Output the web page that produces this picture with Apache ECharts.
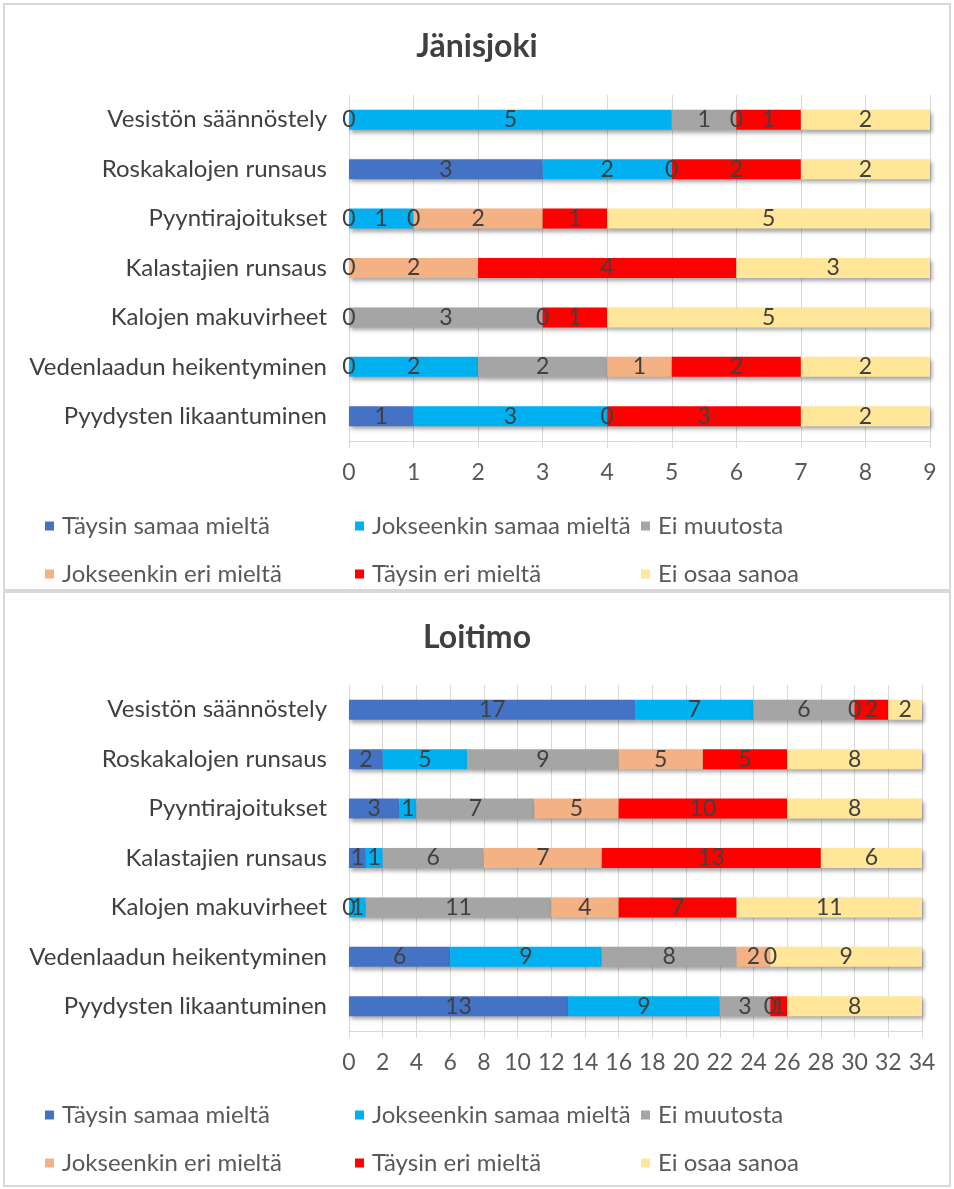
<!DOCTYPE html>
<html>
<head>
<meta charset="utf-8">
<script src="https://cdn.jsdelivr.net/npm/echarts@6/dist/echarts.min.js"></script>
<style>
  html, body { margin: 0; padding: 0; background: #fff; }
  #main { width: 954px; height: 1189px; }
</style>
</head>
<body>
<div id="main"></div>
<script>
// categories, top to bottom
const categories = ['Vesistön säännöstely', 'Roskakalojen runsaus', 'Pyyntirajoitukset',
  'Kalastajien runsaus', 'Kalojen makuvirheet', 'Vedenlaadun heikentyminen', 'Pyydysten likaantuminen']
const seriesNames = ['Täysin samaa mieltä', 'Jokseenkin samaa mieltä', 'Ei muutosta',
  'Jokseenkin eri mieltä', 'Täysin eri mieltä', 'Ei osaa sanoa']
const colors = ['#4472C4', '#00B0F0', '#A5A5A5', '#F4B183', '#FF0000', '#FFE699']

// Jänisjoki
const janTaysinSamaa = [0, 3, 0, 0, 0, 0, 1]
const janJokSamaa = [5, 2, 1, '-', '-', 2, 3]
const janEiMuutosta = [1, 0, 0, '-', 3, 2, 0]
const janJokEri = [0, '-', 2, 2, 0, 1, '-']
const janTaysinEri = [1, 2, 1, 4, 1, 2, 3]
const janEiOsaa = [2, 2, 5, 3, 5, 2, 2]

// Loitimo
const loiTaysinSamaa = [17, 2, 3, 1, 0, 6, 13]
const loiJokSamaa = [7, 5, 1, 1, 1, 9, 9]
const loiEiMuutosta = [6, 9, 7, 6, 11, 8, 3]
const loiJokEri = [0, 5, 5, 7, 4, 2, 0]
const loiTaysinEri = [2, 5, 10, 13, 7, 0, 1]
const loiEiOsaa = [2, 8, 8, 6, 11, 9, 8]

const janTicks = { min: 0, max: 9, interval: 1 }
const loiTicks = { min: 0, max: 34, interval: 2 }

const charts = [
  { title: 'Jänisjoki', titleTop: 26, gridTop: 95, gridRight: 24, legendY: [523, 571], ticks: janTicks,
    data: [janTaysinSamaa, janJokSamaa, janEiMuutosta, janJokEri, janTaysinEri, janEiOsaa] },
  { title: 'Loitimo', titleTop: 617, gridTop: 685, gridRight: 32, legendY: [1112, 1160], ticks: loiTicks,
    data: [loiTaysinSamaa, loiJokSamaa, loiEiMuutosta, loiJokEri, loiTaysinEri, loiEiOsaa] }
]

const legendX = [40, 350, 636]

var myChart = echarts.init(document.getElementById('main'))

let titles = [], grids = [], xAxes = [], yAxes = [], series = [], legends = []
charts.forEach((c, k) => {
  titles.push({
    text: c.title, left: 'center', top: c.titleTop,
    textStyle: { fontFamily: 'Lato', fontSize: 32, fontWeight: 'bold', color: '#404040' }
  })
  grids.push({ left: 349, right: c.gridRight, top: c.gridTop, height: 346 })
  xAxes.push({
    gridIndex: k, type: 'value', min: c.ticks.min, max: c.ticks.max, interval: c.ticks.interval,
    axisLine: { show: true, lineStyle: { color: '#d9d9d9' } },
    axisTick: { show: true, length: 7, lineStyle: { color: '#d9d9d9' } },
    axisLabel: { margin: 20, fontFamily: 'Lato', fontSize: 23, color: '#595959' },
    splitLine: { show: true, lineStyle: { color: '#d9d9d9' } }
  })
  yAxes.push({
    gridIndex: k, type: 'category', data: categories, inverse: true,
    axisLine: { show: false }, axisTick: { show: false },
    axisLabel: { margin: 22, fontFamily: 'Lato', fontSize: 24, color: '#404040' }
  })
  seriesNames.forEach((name, i) => {
    series.push({
      name: name, type: 'bar', stack: 'total' + k, xAxisIndex: k, yAxisIndex: k,
      barWidth: 20, data: c.data[i],
      itemStyle: { color: colors[i], shadowColor: 'rgba(0,0,0,0.35)', shadowBlur: 4, shadowOffsetX: 2, shadowOffsetY: 3 },
      label: { show: true, position: 'inside', fontFamily: 'Lato', fontSize: 23, color: '#404040' }
    })
  })
  seriesNames.forEach((name, i) => {
    legends.push({
      data: [name], left: legendX[i % 3], top: c.legendY[Math.floor(i / 3)] - 14,
      icon: 'rect', itemWidth: 9, itemHeight: 9, itemGap: 6,
      textStyle: { fontFamily: 'Lato', fontSize: 24, color: '#595959', padding: [0, 0, 0, 3] }
    })
  })
})

myChart.setOption({
  animation: false,
  color: colors,
  title: titles,
  grid: grids,
  xAxis: xAxes,
  yAxis: yAxes,
  legend: legends,
  graphic: [
    { type: 'rect', shape: { x: 4, y: 4, width: 946, height: 586 }, style: { fill: 'none', stroke: '#d9d9d9', lineWidth: 2 } },
    { type: 'rect', shape: { x: 4, y: 592, width: 946, height: 594 }, style: { fill: 'none', stroke: '#d9d9d9', lineWidth: 2 } }
  ],
  series: series
})
</script>
</body>
</html>
